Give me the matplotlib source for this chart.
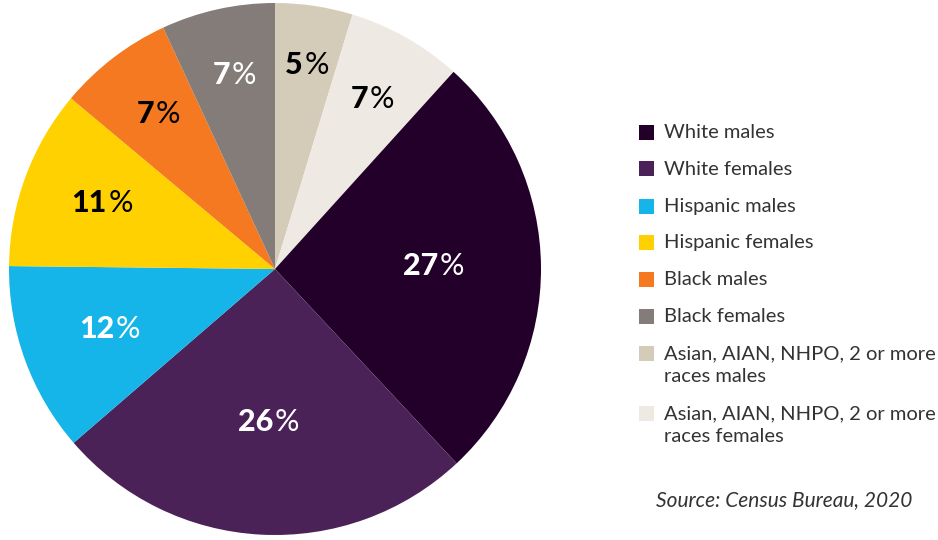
import numpy as np
import matplotlib
matplotlib.use('Agg')
import matplotlib.pyplot as plt
from matplotlib.patches import Rectangle

plt.rcParams['font.family'] = ['Lato', 'DejaVu Sans']

# data (legend order)
groups = ['White males', 'White females', 'Hispanic males', 'Hispanic females',
          'Black males', 'Black females',
          'Asian, AIAN, NHPO, 2 or more\nraces males',
          'Asian, AIAN, NHPO, 2 or more\nraces females']
shares = [26.3, 25.6, 11.5, 10.9, 7.0, 6.9, 4.7, 7.0]
pct_labels = ['27', '26', '12', '11', '7', '7', '5', '7']
colors = ['#220029', '#4a2258', '#15b4e9', '#ffd100', '#f47920', '#837c78',
          '#d5cbb9', '#eeeae3']
text_colors = ['white', 'white', 'white', 'black', 'black', 'white', 'black', 'black']
label_r = [0.59, 0.58, 0.67, 0.70, 0.73, 0.74, 0.77, 0.73]

# pie starts at top with the asian groups, then clockwise
order = [6, 7, 0, 1, 2, 3, 4, 5]

fig = plt.figure(figsize=(9.38, 5.4), dpi=100)
ax = fig.add_axes([9 / 938, 5 / 540, 532 / 938, 532 / 540])
wedges, _ = ax.pie([shares[i] for i in order], colors=[colors[i] for i in order],
                   startangle=90, counterclock=False, radius=1,
                   wedgeprops=dict(linewidth=0))
ax.set_xlim(-1, 1)
ax.set_ylim(-1, 1)
ax.set_aspect('equal')
ax.axis('off')

for w, i in zip(wedges, order):
    ang = np.deg2rad((w.theta1 + w.theta2) / 2)
    x = label_r[i] * np.cos(ang)
    y = label_r[i] * np.sin(ang)
    t = ax.annotate(pct_labels[i], xy=(x, y), xytext=(-8, 1), textcoords='offset points',
                    ha='center', va='center', fontsize=22, fontweight='black',
                    color=text_colors[i])
    ax.annotate('%', xy=(1, 0), xycoords=t, xytext=(1, 0), textcoords='offset points',
                ha='left', va='bottom', fontsize=22, fontweight='normal',
                color=text_colors[i])

# legend
y_rows = [132, 169, 206, 242, 279, 316, 353, 413]
for i, g in enumerate(groups):
    yp = 1 - y_rows[i] / 540
    fig.patches.append(Rectangle((639 / 938, yp - 7.5 / 540), 15 / 938, 15 / 540,
                                 transform=fig.transFigure, color=colors[i], lw=0))
    fig.text(664 / 938, yp + 8 / 540, g, ha='left', va='top', fontsize=14.5,
             color='#333333', linespacing=1.4)

fig.text(912 / 938, 1 - 500 / 540, 'Source: Census Bureau, 2020', ha='right', va='center',
         fontsize=15, style='italic', color='#333333')

fig.savefig('out.png', dpi=100)
